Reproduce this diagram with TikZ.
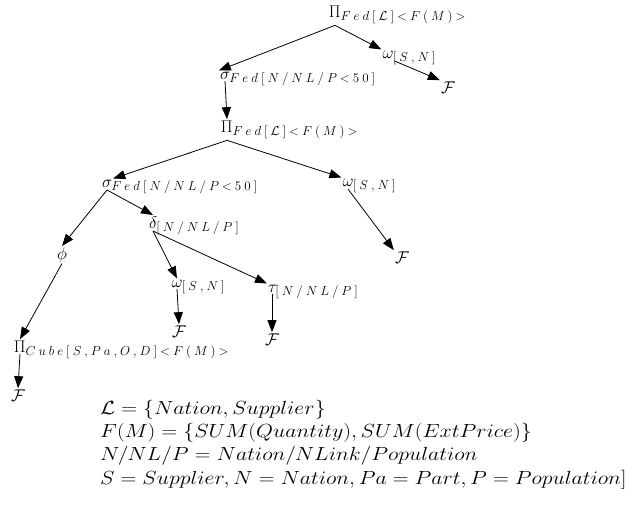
\RequirePackage{fix-cm}
\documentclass[tikz,border=0pt]{standalone}
\usepackage{mathtools}
\usepackage{graphicx}
\usetikzlibrary{arrows.meta}
\DeclareMathSizes{17}{17}{13}{10}
\makeatletter
% spread the tokens of a subscript apart
\newcommand\spr[1]{\@tfor\next:=#1\do{\next\kern3pt}}
\makeatother
% legend lines are set a little wider than usual
\newcommand\wide[1]{\scalebox{1.15}[1]{$#1$}}
\begin{document}
\begin{tikzpicture}[x=1pt,y=-1pt,
  op/.style={inner sep=1pt, anchor=base, font=\fontsize{17}{20}\selectfont},
  leg/.style={inner sep=0pt, anchor=base west, font=\fontsize{19}{23}\selectfont},
  arr/.style={-{Triangle[length=12pt,width=9pt]}, line width=0.8pt}]
\useasboundingbox (0,0) rectangle (632,523);
% operator tree
\node[op] (p1) at (335,17) {$\Pi_{\mathrlap{\spr{Fed[{\mathcal{L}}]<F(M)>}}}$};
\node[op] (s1) at (225,79) {$\sigma_{\mathrlap{\spr{Fed[N/NL/P<50]}}}$};
\node[op] (w1) at (388,58) {$\omega_{\mathrlap{\spr{[S,N]}}}$};
\node[op] (f1) at (448,93) {$\mathcal{F}$};
\node[op] (p2) at (227,132) {$\Pi_{\mathrlap{\spr{Fed[{\mathcal{L}}]<F(M)>}}}$};
\node[op] (s2) at (107,187) {$\sigma_{\mathrlap{\spr{Fed[N/NL/P<50]}}}$};
\node[op] (w2) at (348,186) {$\omega_{\mathrlap{\spr{[S,N]}}}$};
\node[op] (f2) at (402,263) {$\mathcal{F}$};
\node[op] (d) at (153,228) {$\delta_{\mathrlap{\spr{[N/NL/P]}}}$};
\node[op] (ph) at (62,259) {$\phi$};
\node[op] (w3) at (177,287) {$\omega_{\mathrlap{\spr{[S,N]}}}$};
\node[op] (t) at (272,292) {$\tau_{\mathrlap{\spr{[N/NL/P]}}}$};
\node[op] (f3) at (179,337) {$\mathcal{F}$};
\node[op] (f4) at (272,345) {$\mathcal{F}$};
\node[op] (p3) at (20,352) {$\Pi_{\mathrlap{\spr{Cube[S,Pa,O,D]<F(M)>}}}$};
\node[op] (f5) at (18,401) {$\mathcal{F}$};
% connectors, leaving just below each operator symbol
\draw[arr] (p1.south) -- (s1.north west);
\draw[arr] (p1.south) -- (w1.north west);
\draw[arr] ([yshift=-3pt]w1.base east) -- (f1.north west);
\draw[arr] ([yshift=-2pt]s1.base) -- (p2.north);
\draw[arr] (p2.south) -- (s2.north east);
\draw[arr] (p2.south) -- (w2.north west);
\draw[arr] ([yshift=-3pt]w2.base) -- (f2.north west);
\draw[arr] ([yshift=-3pt]s2.base) -- (ph.north);
\draw[arr] ([yshift=-3pt]s2.base) -- (d.north);
\draw[arr] ([yshift=-3pt]d.base) -- (w3.north);
\draw[arr] ([yshift=-3pt]d.base) -- (t.north west);
\draw[arr] (ph.south) -- (p3.north);
\draw[arr] ([yshift=-2pt]w3.base) -- (f3.north);
\draw[arr] ([yshift=-2pt]t.base) -- (f4.north);
\draw[arr] ([yshift=-2pt]p3.base) -- (f5.north);
% legend
\node[leg] (l1) at (100,414) {\wide{\mathcal{L}=\{Nation,Supplier\}}};
\node[leg] (l2) at (100,437) {\wide{F(M)=\{SUM(Quantity),SUM(ExtPrice)\}}};
\node[leg] (l3) at (100,460) {\wide{N/NL/P=Nation/NLink/Population}};
\node[leg] (l4) at (100,484) {\wide{S=Supplier,N=Nation,Pa=Part,P=Population]}};
\end{tikzpicture}
\end{document}
